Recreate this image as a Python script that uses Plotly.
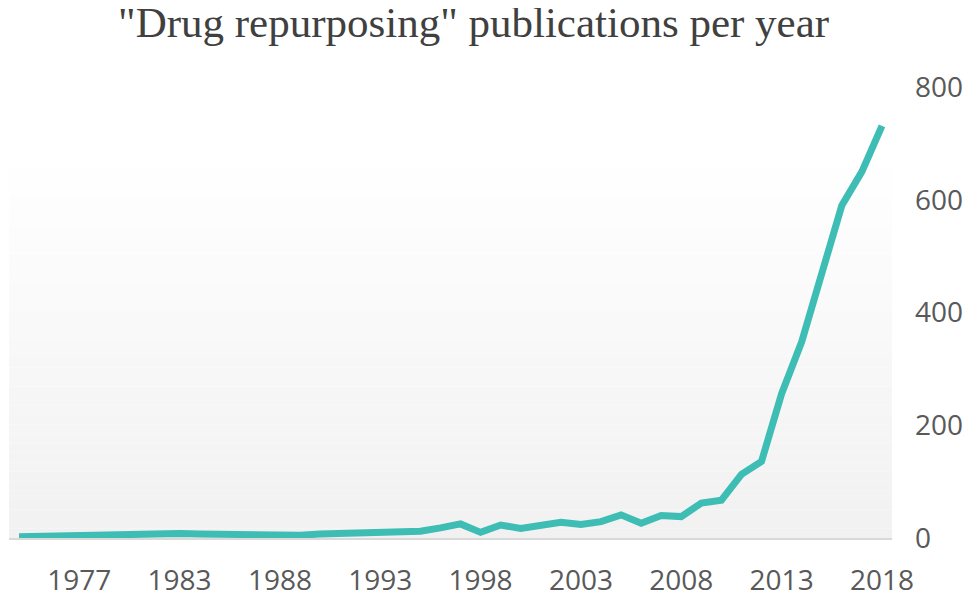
import plotly.graph_objects as go

# ---- data ----
years = ["1974", "1975", "1976", "1977", "1978", "1979", "1981", "1982", "1983",
         "1984", "1985", "1986", "1987", "1988", "1989", "1990", "1991", "1992",
         "1993", "1994", "1995", "1996", "1997", "1998", "1999", "2000", "2001",
         "2002", "2003", "2004", "2005", "2006", "2007", "2008", "2009", "2010",
         "2011", "2012", "2013", "2014", "2015", "2016", "2017", "2018"]
publications = [2, 3, 4, 5, 5, 6, 7, 7, 8,
                7, 6, 7, 7, 6, 5, 7, 8, 9,
                9, 11, 12, 18, 25, 10, 23, 17, 21,
                28, 24, 29, 41, 26, 40, 38, 62, 67,
                113, 136, 256, 348, 469, 590, 650, 731]
x_tick_labels = ["1977", "1983", "1988", "1993", "1998", "2003", "2008", "2013", "2018"]
y_tick_values = [0, 200, 400, 600, 800]

TITLE = '"Drug repurposing" publications per year'
LINE_COLOR = "rgb(62,189,181)"
TICK_COLOR = "#595959"

fig = go.Figure()
fig.add_trace(go.Scatter(
    x=years, y=publications, mode="lines",
    line=dict(color=LINE_COLOR, width=7),
    hoverinfo="x+y", showlegend=False,
))

# subtle vertical gradient background in the plot area (white top -> light grey bottom)
n_bands = 40
grad_top = 0.84
shapes = []
for i in range(n_bands):
    y0 = grad_top * i / n_bands
    y1 = grad_top * (i + 1) / n_bands
    t = (i + 0.5) / n_bands  # 0 bottom, 1 top
    c = round(241 + (255 - 241) * t)
    shapes.append(dict(type="rect", xref="paper", yref="paper",
                       x0=0, x1=1, y0=y0, y1=y1,
                       fillcolor=f"rgb({c},{c},{c})", line=dict(width=0),
                       layer="below"))

# the page body has an 8px default margin, so the figure is sized to fit the window
fig.update_layout(
    width=972, height=584,
    margin=dict(l=1, r=88, t=79, b=54),
    paper_bgcolor="white", plot_bgcolor="white",
    shapes=shapes,
    title=dict(text=TITLE, x=0.479, xref="container", xanchor="center",
               y=0.976, yref="container", yanchor="middle",
               font=dict(family="Liberation Serif, Times New Roman, serif",
                         size=43, color="#404040")),
    xaxis=dict(type="category", categoryorder="array", categoryarray=years,
               range=[-0.5, len(years) - 0.5], automargin=False,
               tickmode="array", tickvals=x_tick_labels, ticktext=x_tick_labels,
               showgrid=False, zeroline=False, ticks="",
               showline=True, linecolor="#d9d9d9", linewidth=1.5,
               ticklabelstandoff=17,
               tickfont=dict(family="Open Sans, sans-serif", size=28, color=TICK_COLOR)),
    yaxis=dict(side="right", range=[0, 800], automargin=False,
               tickmode="array", tickvals=y_tick_values,
               showgrid=False, zeroline=False, showline=False, ticks="",
               ticklabelstandoff=22,
               tickfont=dict(family="Open Sans, sans-serif", size=28, color=TICK_COLOR)),
)

fig.write_html("out.html")
